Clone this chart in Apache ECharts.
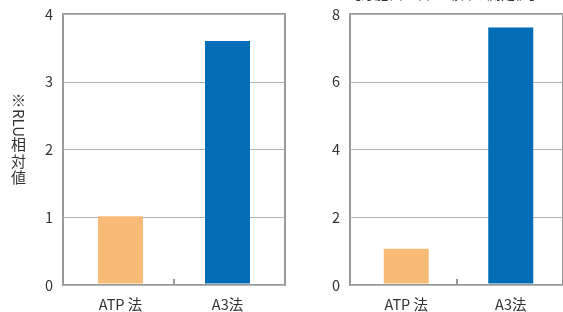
<!DOCTYPE html>
<html>
<head>
<meta charset="utf-8">
<script src="https://cdn.jsdelivr.net/npm/echarts@6/dist/echarts.min.js"></script>
<style>
  html, body { margin: 0; padding: 0; background: #fff; }
  #chart { width: 563px; height: 312px; }
</style>
</head>
<body>
<div id="chart"></div>
<script>
// データ
const categories = ['ATP 法', 'A3法'];
const leftValues = [1.0, 3.6];
const rightValues = [1.03, 7.6];
const barColors = ['#f8bb77', '#006db6'];

const FONT = '"Noto Sans CJK JP", "Noto Sans", sans-serif';
const chart = echarts.init(document.getElementById('chart'));

// 背景用（枠・目盛り線・Y軸ラベル・中央の目盛り）
function frameYAxis(gridIndex, max, interval) {
  return {
    type: 'value', gridIndex, min: 0, max, interval,
    axisLine: { show: false },
    axisTick: { show: false },
    axisLabel: { color: '#333', fontSize: 14.5, fontFamily: FONT, margin: 10 },
    splitLine: { show: true, lineStyle: { color: '#b3b3b3', width: 1 } }
  };
}
function frameXAxis(gridIndex) {
  return {
    type: 'category', gridIndex, data: ['', ''],
    axisLine: { show: false },
    axisTick: { show: true, inside: true, length: 6, lineStyle: { color: '#999', width: 2 } },
    axisLabel: { show: false }
  };
}
// 棒グラフ用
function barYAxis(gridIndex, max, interval) {
  return {
    type: 'value', gridIndex, min: 0, max, interval,
    axisLine: { show: false }, axisTick: { show: false },
    axisLabel: { show: false }, splitLine: { show: false }
  };
}
function barXAxis(gridIndex) {
  return {
    type: 'category', gridIndex, data: categories,
    axisLine: { show: false },
    axisTick: { show: false },
    axisLabel: { color: '#333', fontSize: 14.5, fontFamily: FONT, margin: 14 },
    splitLine: { show: false }
  };
}
function seriesOf(idx, values) {
  return {
    type: 'bar', xAxisIndex: idx, yAxisIndex: idx, data: values, barWidth: 45,
    itemStyle: { color: p => barColors[p.dataIndex] }, z: 3
  };
}

// 縦書きの軸名（英字は横倒し）
const txt = { font: '15px ' + FONT, fill: '#333' };
const nameGraphics = [
  { type: 'text', left: 11, top: 93, style: Object.assign({ text: '※' }, txt) },
  { type: 'text', x: 26, y: 109, rotation: -Math.PI / 2, style: Object.assign({ text: 'RLU' }, txt) },
  { type: 'text', left: 11, top: 137, style: Object.assign({ text: '相' }, txt) },
  { type: 'text', left: 11, top: 154, style: Object.assign({ text: '対' }, txt) },
  { type: 'text', left: 11, top: 170, style: Object.assign({ text: '値' }, txt) }
];

const option = {
  animation: false,
  grid: [
    { left: 63, top: 14, width: 222, height: 271, show: true, borderColor: '#999', borderWidth: 2 },
    { left: 350, top: 14, width: 222, height: 271, show: true, borderColor: '#999', borderWidth: 2 },
    { left: 67, top: 14, width: 214, height: 271 },
    { left: 354, top: 14, width: 214, height: 271 }
  ],
  xAxis: [frameXAxis(0), frameXAxis(1), barXAxis(2), barXAxis(3)],
  yAxis: [frameYAxis(0, 4, 1), frameYAxis(1, 8, 2), barYAxis(2, 4, 1), barYAxis(3, 8, 2)],
  series: [seriesOf(2, leftValues), seriesOf(3, rightValues)],
  graphic: nameGraphics.concat([
    {
      type: 'text', x: 445, y: 1,
      style: { text: '【芽胞菌を含む場合の測定値】', font: '14px ' + FONT, fill: '#333', align: 'center', verticalAlign: 'bottom' }
    }
  ])
};

chart.setOption(option);
window.addEventListener('resize', () => chart.resize());
</script>
</body>
</html>
